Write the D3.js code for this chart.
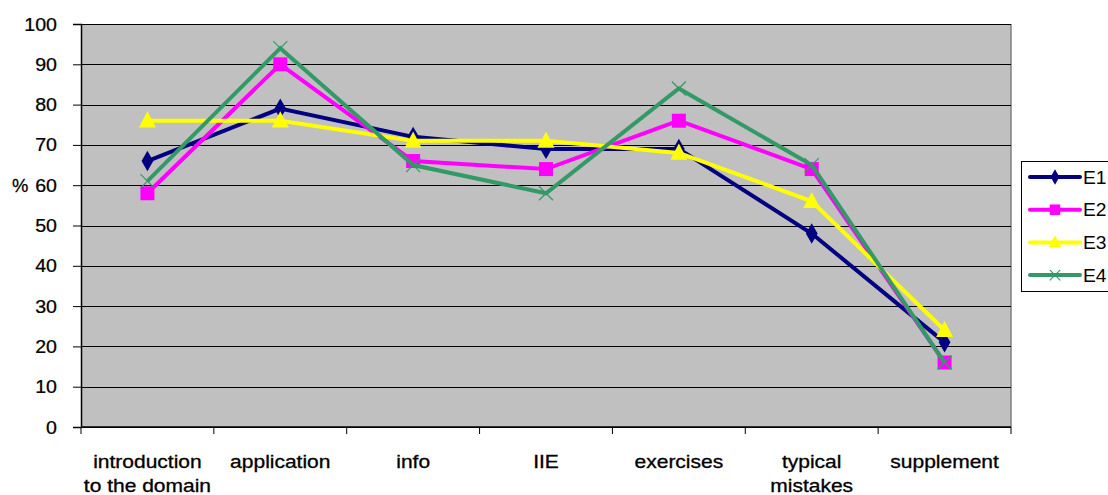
<!DOCTYPE html>
<html>
<head>
<meta charset="utf-8">
<script src="https://cdn.jsdelivr.net/npm/d3@7"></script>
<style>
  body { margin: 0; background: #fff; }
  text { font-family: "Liberation Sans", Arial, sans-serif; }
</style>
</head>
<body>
<script>
// categories and series
const categories = [["introduction", "to the domain"], ["application"], ["info"], ["IIE"], ["exercises"], ["typical", "mistakes"], ["supplement"]];
const seriesNames = ["E1", "E2", "E3", "E4"];
const e1 = [66, 79, 72, 69, 69, 48, 21];
const e2 = [58, 90, 66, 64, 76, 64, 16];
const e3 = [76, 76, 71, 71, 68, 56, 24];
const e4 = [61, 94, 65, 58, 84, 65, 16];
const yTicks = [0, 10, 20, 30, 40, 50, 60, 70, 80, 90, 100];

const colors = {E1: "#000080", E2: "#ff00ff", E3: "#ffff00", E4: "#339966"};
const series = [
    {name: "E1", values: e1, marker: "diamond"},
    {name: "E2", values: e2, marker: "square"},
    {name: "E3", values: e3, marker: "triangle"},
    {name: "E4", values: e4, marker: "cross"}
];

const width = 1108, height = 495;
const plot = {left: 81, top: 24, right: 1011, bottom: 427};
const fs = 17.5;   // text size, the reference text is a bit stretched sideways

const svg = d3.select("body").append("svg")
    .attr("width", width).attr("height", height);

const x = d3.scaleBand()
    .domain(d3.range(categories.length))
    .range([plot.left, plot.right]);
const y = d3.scaleLinear().domain([0, 100]).range([plot.bottom, plot.top]);

// plot background
svg.append("rect")
    .attr("x", plot.left).attr("y", plot.top)
    .attr("width", plot.right - plot.left).attr("height", plot.bottom - plot.top)
    .attr("fill", "#c0c0c0");
svg.append("line")
    .attr("x1", plot.right).attr("x2", plot.right)
    .attr("y1", plot.top).attr("y2", plot.bottom)
    .attr("stroke", "#808080").attr("stroke-width", 1.5);

// gridlines
svg.append("g").selectAll("line").data(yTicks).join("line")
    .attr("x1", plot.left).attr("x2", plot.right)
    .attr("y1", d => Math.round(y(d)) + 0.5).attr("y2", d => Math.round(y(d)) + 0.5)
    .attr("stroke", "#000").attr("stroke-width", 1);

// y axis (labels drawn by hand so they can be stretched)
const yAxis = svg.append("g")
    .attr("transform", `translate(${plot.left},0)`)
    .call(d3.axisLeft(y).tickValues(yTicks).tickSize(8).tickFormat(""));
yAxis.select(".domain").attr("stroke", "#000").attr("stroke-width", 1.5);
yAxis.selectAll(".tick line").attr("stroke", "#000");

svg.append("g").selectAll("text").data(yTicks).join("text")
    .attr("transform", d => `translate(57,${y(d) + 6.5}) scale(1.12,1)`)
    .attr("text-anchor", "end")
    .attr("font-size", fs)
    .attr("stroke", "#000").attr("stroke-width", 0.25)
    .text(d => d);

svg.append("text")
    .attr("transform", `translate(12,${y(60) + 6.5}) scale(1.05,1)`)
    .attr("font-size", fs)
    .attr("stroke", "#000").attr("stroke-width", 0.25)
    .text("%");

// x axis: ticks at category boundaries
const bounds = d3.range(categories.length + 1).map(i => plot.left + i * x.bandwidth());
svg.append("line")
    .attr("x1", plot.left).attr("x2", plot.right)
    .attr("y1", plot.bottom).attr("y2", plot.bottom)
    .attr("stroke", "#000").attr("stroke-width", 1.5);
svg.append("g").selectAll("line").data(bounds).join("line")
    .attr("x1", d => d).attr("x2", d => d)
    .attr("y1", plot.bottom).attr("y2", plot.bottom + 7)
    .attr("stroke", "#000").attr("stroke-width", 1);

svg.append("g").selectAll("text").data(categories).join("text")
    .attr("transform", (d, i) => `translate(${x(i) + x.bandwidth() / 2},468) scale(1.2,1)`)
    .attr("text-anchor", "middle")
    .attr("font-size", fs)
    .attr("stroke", "#000").attr("stroke-width", 0.3)
    .selectAll("tspan").data(d => d).join("tspan")
    .attr("x", 0)
    .attr("dy", (d, i) => i === 0 ? 0 : 24)
    .text(d => d);

// lines
const cx = i => x(i) + x.bandwidth() / 2;
const line = d3.line().x((d, i) => cx(i)).y(d => y(d));

function drawMarker(g, type, color, px, py, scale) {
    const s = scale || 1;
    if (type === "diamond") {
        g.append("path").attr("d", d3.symbol(d3.symbolDiamond, 120 * s * s)())
            .attr("transform", `translate(${px},${py})`).attr("fill", color);
    } else if (type === "square") {
        const w = 14 * s;
        g.append("rect").attr("x", px - w / 2).attr("y", py - w / 2)
            .attr("width", w).attr("height", w).attr("fill", color);
    } else if (type === "triangle") {
        const w = 17 * s;
        g.append("path")
            .attr("d", `M${px},${py - w * 0.55}L${px + w / 2},${py + w * 0.4}L${px - w / 2},${py + w * 0.4}Z`)
            .attr("fill", color);
    } else {
        const w = 7 * s;
        g.append("path")
            .attr("d", `M${px - w},${py - w}L${px + w},${py + w}M${px - w},${py + w}L${px + w},${py - w}`)
            .attr("stroke", color).attr("stroke-width", 1.2).attr("fill", "none");
    }
}

series.forEach(s => {
    const g = svg.append("g");
    g.append("path").datum(s.values)
        .attr("d", line)
        .attr("fill", "none")
        .attr("stroke", colors[s.name])
        .attr("stroke-width", 4)
        .attr("stroke-linejoin", "miter");
    s.values.forEach((v, i) => drawMarker(g, s.marker, colors[s.name], cx(i), y(v)));
});

// legend
const legend = svg.append("g");
legend.append("rect")
    .attr("x", 1021.5).attr("y", 161.5)
    .attr("width", 100).attr("height", 130)
    .attr("fill", "#fff").attr("stroke", "#000").attr("stroke-width", 1);
series.forEach((s, i) => {
    const ly = 177 + i * 32.7;
    legend.append("line")
        .attr("x1", 1030).attr("x2", 1080).attr("y1", ly).attr("y2", ly)
        .attr("stroke", colors[s.name]).attr("stroke-width", 4).attr("stroke-linecap", "round");
    drawMarker(legend, s.marker, colors[s.name], 1055, ly, 0.75);
    legend.append("text")
        .attr("transform", `translate(1083,${ly + 6.5}) scale(1.1,1)`)
        .attr("font-size", fs)
        .text(s.name);
});
</script>
</body>
</html>
